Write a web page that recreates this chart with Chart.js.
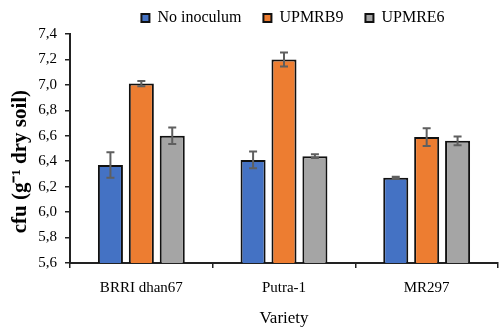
<!DOCTYPE html>
<html>
<head>
<meta charset="utf-8">
<script src="https://cdn.jsdelivr.net/npm/chart.js@4/dist/chart.umd.min.js"></script>
<style>
  body { margin: 0; background: #fff; }
  #wrap { width: 499px; height: 329px; }
</style>
</head>
<body>
<div id="wrap"><canvas id="chart" width="499" height="329"></canvas></div>
<script>
var categories = ["BRRI dhan67", "Putra-1", "MR297"];
var seriesNames = ["No inoculum", "UPMRB9", "UPMRE6"];
var noInoculum = [6.37, 6.41, 6.27];
var upmrb9 = [7.01, 7.20, 6.59];
var upmre6 = [6.60, 6.44, 6.56];
var errNoInoculum = [0.10, 0.066, 0.008];
var errUpmrb9 = [0.02, 0.055, 0.07];
var errUpmre6 = [0.065, 0.015, 0.035];
var yMin = 5.6, yMax = 7.4, yStep = 0.2;

var serif = "'Liberation Serif', 'Times New Roman', serif";
var legendPad = 22;

// draws the standard-error whiskers on top of each bar
var errorBars = {
  id: "errorBars",
  afterDatasetsDraw: function(chart) {
    var ctx = chart.ctx;
    var y = chart.scales.y;
    ctx.save();
    ctx.strokeStyle = "#5f5f5f";
    ctx.lineWidth = 2;
    chart.data.datasets.forEach(function(ds, i) {
      var meta = chart.getDatasetMeta(i);
      meta.data.forEach(function(bar, j) {
        var v = ds.data[j], e = ds.errors[j];
        var top = y.getPixelForValue(v + e);
        var bot = y.getPixelForValue(v - e);
        ctx.beginPath();
        ctx.moveTo(bar.x, top); ctx.lineTo(bar.x, bot);
        ctx.moveTo(bar.x - 4, top); ctx.lineTo(bar.x + 4, top);
        ctx.moveTo(bar.x - 4, bot); ctx.lineTo(bar.x + 4, bot);
        ctx.stroke();
      });
    });
    ctx.restore();
  }
};

// wide gaps between legend items but keep the legend short, and move it right over the plot
var legendShift = {
  id: "legendShift",
  beforeLayout: function(chart) {
    var lg = chart.legend;
    if (lg && !lg._patched) {
      var fit = lg.fit;
      lg.fit = function() {
        fit.call(this);
        this.height -= (legendPad - 6);
      };
      lg._patched = true;
    }
  },
  afterLayout: function(chart) {
    var lg = chart.legend;
    lg.left += 44;
    lg.right += 44;
    lg.top -= 14;
    lg.bottom = lg.top + 50;
    lg.height = 50;
  }
};

new Chart(document.getElementById("chart"), {
  type: "bar",
  data: {
    labels: categories,
    datasets: [
      { label: seriesNames[0], data: noInoculum, errors: errNoInoculum, backgroundColor: "#4472C4" },
      { label: seriesNames[1], data: upmrb9, errors: errUpmrb9, backgroundColor: "#ED7D31" },
      { label: seriesNames[2], data: upmre6, errors: errUpmre6, backgroundColor: "#A5A5A5" }
    ].map(function(d) {
      d.borderColor = "#111";
      d.borderWidth = 2;
      d.categoryPercentage = 0.65;
      d.barPercentage = 0.81;
      return d;
    })
  },
  options: {
    responsive: false,
    animation: false,
    layout: { padding: { left: 0, right: 1, top: 2, bottom: 0 } },
    plugins: {
      tooltip: { enabled: false },
      legend: {
        position: "top",
        labels: {
          color: "#000",
          font: { family: serif, size: 16 },
          boxWidth: 8,
          boxHeight: 8,
          padding: legendPad
        }
      }
    },
    scales: {
      x: {
        grid: { display: true, drawOnChartArea: false, drawTicks: true, tickLength: 5, color: "#222", lineWidth: 1.5 },
        border: { color: "#222", width: 2 },
        ticks: { color: "#000", font: { family: serif, size: 15 }, padding: 11 },
        title: { display: true, text: "Variety", color: "#000", font: { family: serif, size: 17 }, padding: { top: 4, bottom: 0 } },
        afterFit: function(s) { s.height = 66; }
      },
      y: {
        min: yMin,
        max: yMax,
        grid: { display: true, drawOnChartArea: false, drawTicks: true, tickLength: 5, color: "#222", lineWidth: 1.5 },
        border: { color: "#222", width: 2 },
        ticks: {
          stepSize: yStep,
          color: "#000",
          font: { family: serif, size: 15 },
          padding: 8,
          callback: function(v) { return v.toFixed(1).replace(".", ","); }
        },
        // trailing spaces nudge the rotated title down to where the reference has it
        title: { display: true, text: "cfu (g\u207B\u00B9 dry soil)     ", color: "#000", font: { family: serif, size: 21, weight: "bold" }, padding: { top: 8, bottom: 4 } },
        afterFit: function(s) { s.width = 70; }
      }
    }
  },
  plugins: [errorBars, legendShift]
});
</script>
</body>
</html>
